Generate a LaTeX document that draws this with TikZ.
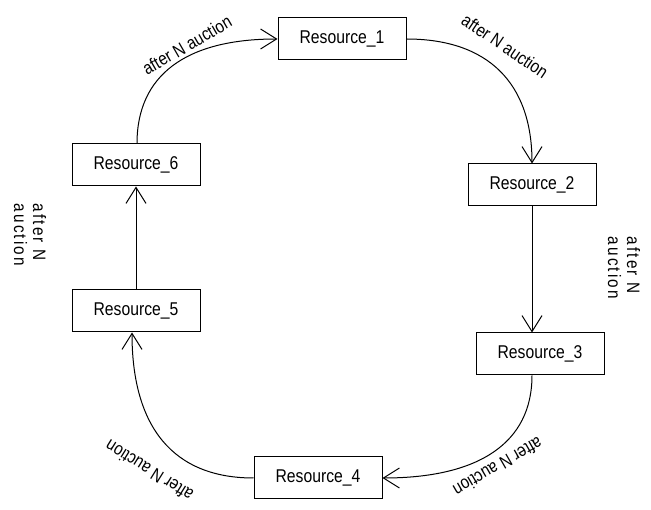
\documentclass[tikz,border=0pt]{standalone}
\usepackage{fontspec}
\setmainfont{Liberation Sans}[FakeStretch=0.85]
\usetikzlibrary{arrows.meta}
\begin{document}
\begin{tikzpicture}[x=1pt,y=-1pt,
  res/.style={draw, line width=1pt, minimum width=128pt, minimum height=42pt, inner sep=0pt, font=\fontsize{18.5}{21}\selectfont},
  conn/.style={line width=1pt, -{Straight Barb[length=16pt,width=20pt,line width=1pt]}},
  lbl/.style={inner sep=0pt, font=\fontsize{18}{21}\selectfont},
  vlbl/.style={inner sep=0pt, align=left, rotate=-90, font=\fontsize{18}{19}\selectfont\addfontfeature{LetterSpace=12}}]
\useasboundingbox (0,0) rectangle (651,510);
\node[res] (r1) at (342,39) {Resource\_1};
\node[res] (r2) at (532,185) {Resource\_2};
\node[res] (r3) at (540,354) {Resource\_3};
\node[res] (r4) at (318,478) {Resource\_4};
\node[res] (r5) at (136,311) {Resource\_5};
\node[res] (r6) at (136,165) {Resource\_6};
\draw[conn] ([xshift=1pt]r6.north) .. controls +(0,-68) and +(-92,0) .. (r1.west);
\draw[conn] (r1.east) .. controls +(82,0) and +(0,-80) .. (r2.north);
\draw[conn] (r2.south) -- ([xshift=-8pt]r3.north);
\draw[conn] ([xshift=-8pt]r3.south) .. controls +(0,67) and +(97,0) .. (r4.east);
\draw[conn] (r4.west) .. controls +(-80,0) and +(0,95) .. ([xshift=-4pt]r5.south);
\draw[conn] (r5.north) -- (r6.south);
\node[lbl, rotate=30] (l1) at (187,45) {after N auction};
\node[lbl, rotate=-34] (l2) at (505,46) {after N auction};
\node[vlbl] (l3) at (624,268) {after N\\auction};
\node[lbl, rotate=210] (l4) at (498,467) {after N auction};
\node[lbl, rotate=148] (l5) at (149,471) {after N auction};
\node[vlbl] (l6) at (30,235) {after N\\auction};
\end{tikzpicture}
\end{document}
